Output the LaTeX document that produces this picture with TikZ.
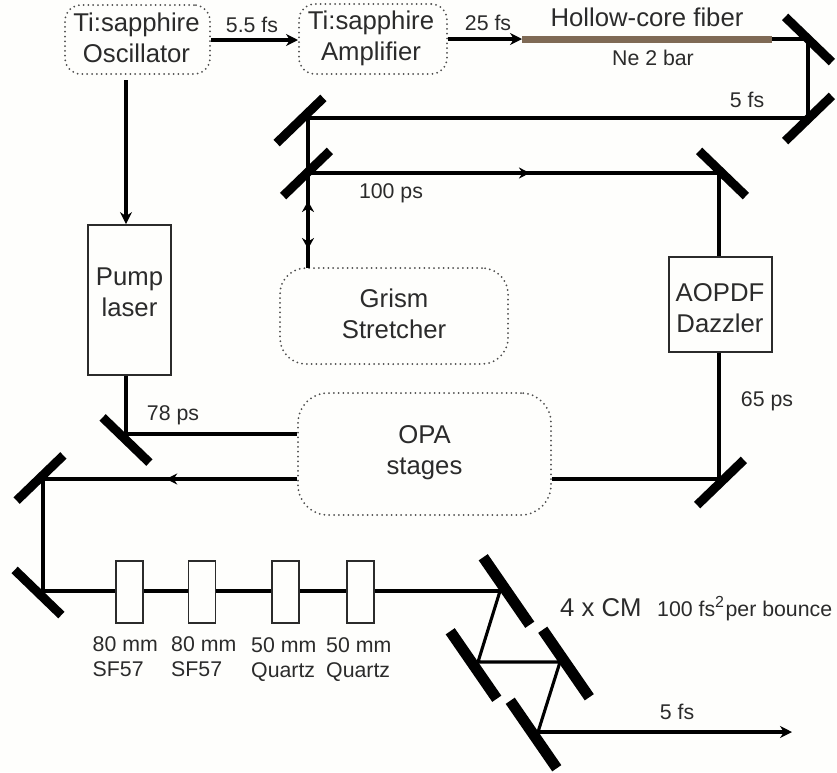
\documentclass[tikz,border=0pt]{standalone}
\usepackage{fontspec}
\setmainfont{Liberation Sans}
\usetikzlibrary{arrows.meta,decorations.markings}
\definecolor{paper}{HTML}{FEFEFC}
\definecolor{ink}{HTML}{2B2B2B}
\definecolor{fibre}{HTML}{7F6A55}
\tikzset{
  bigtext/.style={text=ink,font=\fontsize{25.7}{31}\selectfont,align=center,inner sep=0pt},
  smalltext/.style={text=ink,font=\fontsize{21.3}{25}\selectfont,align=left,inner sep=0pt},
  dotbox/.style={bigtext,draw=black!70,line width=2pt,dash pattern=on 0pt off 4.8pt,line cap=round,rounded corners=#1},
  dotbox/.default=16pt,
  solidbox/.style={bigtext,draw=ink,line width=1.8pt},
  glass/.style={draw=ink,fill=paper,line width=1.8pt,minimum width=27pt,minimum height=62pt,inner sep=0pt},
  mirror/.style={fill=black,minimum width=65pt,minimum height=9pt,inner sep=0pt,outer sep=0pt},
  cmmirror/.style={fill=black,minimum width=82pt,minimum height=11pt,inner sep=0pt,outer sep=0pt},
  beam/.style={draw=black,line width=3.3pt},
  thinbeam/.style={draw=black,line width=3.1pt},
  tip/.style={-{Stealth[length=12pt,width=12pt]}},
  midtip/.style={postaction={decorate},decoration={markings,mark=at position #1 with {\arrow{Stealth[length=11pt,width=11pt]}}}},
}
\begin{document}
\begin{tikzpicture}[x=1pt,y=-1pt]
\useasboundingbox (0,0) rectangle (837,772);
\fill[paper] (0,0) rectangle (837,772);
% boxes
\node[dotbox,minimum width=145pt,minimum height=69pt] (osc) at (137.5,39.5) {};
\node[bigtext] (osctext) at (136.5,37.5) {Ti:sapphire\\Oscillator};
\node[dotbox,minimum width=148pt,minimum height=70pt] (amp) at (373,39) {};
\node[bigtext] (amptext) at (371,38) {Ti:sapphire\\Amplifier};
\node[solidbox,minimum width=83pt,minimum height=150pt] (pump) at (129.5,300) {};
\node[bigtext] (pumptext) at (129.5,292) {Pump\\laser};
\node[dotbox=26pt,minimum width=228pt,minimum height=96pt] (grism) at (394,316) {};
\node[bigtext] (grismtext) at (394,314) {Grism\\Stretcher};
\node[solidbox,minimum width=103pt,minimum height=95pt] (dazzler) at (720.5,304.5) {};
\node[bigtext] (dazzlertext) at (720,308) {AOPDF\\Dazzler};
\node[dotbox=30pt,minimum width=253pt,minimum height=122pt] (opa) at (424.5,454) {};
\node[bigtext] (opatext) at (424.5,452.5) {OPA\\stages};
% mirrors
\node[mirror,rotate=-44] (mA) at (808.5,39.5) {};
\node[mirror,rotate=44] (mB) at (808.5,118.5) {};
\node[mirror,rotate=44] (mC) at (300,120.5) {};
\node[mirror,rotate=44] (mD) at (306.5,173.5) {};
\node[mirror,rotate=-44] (mE) at (722.5,173.5) {};
\node[mirror,rotate=44] (mF) at (720.5,482.5) {};
\node[mirror,rotate=-44] (mG) at (126,440) {};
\node[mirror,rotate=44] (mH) at (40,478) {};
\node[mirror,rotate=-44] (mI) at (38,592.5) {};
\node[cmmirror,rotate=-55.4] (cmA) at (506.5,591) {};
\node[cmmirror,rotate=-55.4] (cmB) at (473.5,665) {};
\node[cmmirror,rotate=-55.4] (cmC) at (566,663.5) {};
\node[cmmirror,rotate=-55.4] (cmD) at (533.5,734.5) {};
% beam corners on the mirrors
\coordinate (pA) at (808,39);
\coordinate (pB) at (808,118);
\coordinate (pC) at (308,118);
\coordinate (pD) at (308,173);
\coordinate (pE) at (719,173);
\coordinate (pF) at (719,479);
\coordinate (pG) at (126,434);
\coordinate (pH) at (43,479);
\coordinate (pI) at (43,591);
\coordinate (qA) at (500,591);
\coordinate (qB) at (478,662);
\coordinate (qC) at (560,662);
\coordinate (qD) at (538,732);
\coordinate (oscout) at (126,80);
\coordinate (stretchin) at (308,268);
\coordinate (fibreL) at (522,39);
\coordinate (fibreR) at (772,39);
\coordinate (exit) at (792,732);
% beams
\draw[beam,tip] (osc.east |- 0,40) -- (amp.west |- 0,40);
\draw[beam,tip] (oscout) -- (oscout |- pump.north);
\draw[beam,tip] (amp.east |- fibreL) -- (fibreL);
\draw[fibre,line width=7pt] (fibreL) -- (fibreR);
\draw[thinbeam] (fibreR) -- (pA) -- (pB) -- (pC) -- (stretchin);
\draw[beam,midtip=0.54] (pD) -- (pE);
\draw[beam] (pE) -- (pE |- dazzler.north);
\draw[beam] (pF |- dazzler.south) -- (pF);
\draw[beam] (pF) -- (pF -| opa.east);
\draw[beam] (pG |- pump.south) -- (pG) -- (pG -| opa.west);
\draw[beam,midtip=0.515] (pH -| opa.west) -- (pH);
\draw[beam] (pH) -- (pI) -- (qA);
\draw[thinbeam] (qA) -- (qB) -- (qC) -- (qD);
\draw[beam,tip] (qD) -- (exit);
\coordinate (up) at (308,201);
\coordinate (down) at (308,249);
\draw[beam,-{Stealth[length=11pt,width=12pt]}] (stretchin) -- (up);
\draw[beam,-{Stealth[length=11pt,width=12pt]}] (pD) -- (down);
% glass plates
\node[glass] (g1) at (129.5,592) {};
\node[glass] (g2) at (202,592) {};
\node[glass] (g3) at (285.5,592) {};
\node[glass] (g4) at (360.5,592) {};
% labels
\node[smalltext] (l55) at (252,25) {5.5 fs};
\node[smalltext] (l25) at (488,23) {25 fs};
\node[bigtext] (lhollow) at (647,17) {Hollow-core fiber};
\node[smalltext] (lne) at (653,58) {Ne 2 bar};
\node[smalltext] (l5a) at (747,100) {5 fs};
\node[smalltext] (l100) at (391,193) {100 ps};
\node[smalltext] (l78) at (173,415) {78 ps};
\node[smalltext] (l65) at (767,401) {65 ps};
\node[smalltext,anchor=north west] (t1) at (92.5,636) {80 mm\\SF57};
\node[smalltext,anchor=north west] (t2) at (171,636) {80 mm\\SF57};
\node[smalltext,anchor=north west] (t3) at (251,637) {50 mm\\Quartz};
\node[smalltext,anchor=north west] (t4) at (326,637) {50 mm\\Quartz};
\node[bigtext,anchor=west] (lcm) at (560,608) {4 x CM};
\node[smalltext,anchor=west] (lbounce) at (657,609) {100 fs\raisebox{9pt}{\fontsize{16}{16}\selectfont 2}\kern1.5pt per bounce};
\node[smalltext] (l5b) at (677,712) {5 fs};
\end{tikzpicture}
\end{document}
